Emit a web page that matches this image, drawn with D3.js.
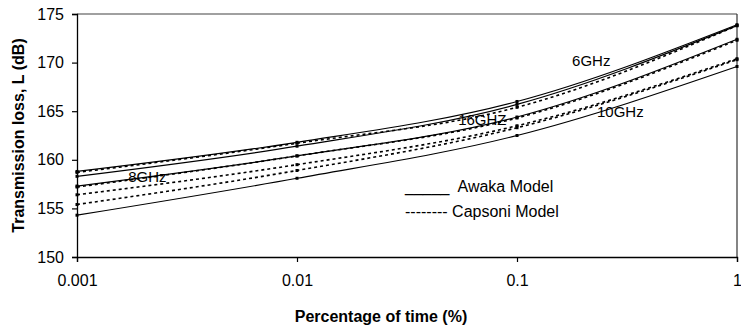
<!DOCTYPE html>
<html><head><meta charset="utf-8">
<script src="https://cdn.jsdelivr.net/npm/d3@7/dist/d3.min.js"></script>
<style>body{margin:0;background:#fff}svg{display:block}text{font-family:"Liberation Sans",Arial,sans-serif}</style>
</head><body><svg id="c" width="741" height="331"></svg>
<script>
const percentTime = [0.001, 0.01, 0.1, 1];
const xTicks = [0.001, 0.01, 0.1, 1];
const xTickLabels = ["0.001", "0.01", "0.1", "1"];
const yTicks = [150, 155, 160, 165, 170, 175];
// Awaka model (solid)
const awakaA = [158.8, 161.8, 166.0, 173.9];
const awakaB = [158.3, 161.4, 165.7, 173.8];
const awakaC = [157.3, 160.4, 164.4, 172.4];
const awakaD = [154.3, 158.1, 162.5, 169.6];
// Capsoni model (dashed)
const capsoniA = [158.7, 161.7, 165.4, 173.8];
const capsoniB = [157.2, 160.4, 164.3, 172.3];
const capsoniC = [156.4, 159.5, 163.5, 170.4];
const capsoniD = [155.4, 158.9, 163.3, 170.3];
const freqLabels = ["6GHz", "8GHz", "10GHz", "16GHZ"];
const freqLabelPos = [[0.178, 169.65], [0.00171, 157.75], [0.231, 164.37], [0.054, 163.58]];
const legendLabels = ["_____  Awaka Model", "-------- Capsoni Model"];

const svg = d3.select("#c");
const L = 77, R = 737, T = 14, B = 257;
const x = d3.scaleLog().domain([0.001, 1]).range([L, R]);
const y = d3.scaleLinear().domain([150, 175]).range([B, T]);

// frame top/right
svg.append("line").attr("x1", L).attr("x2", R).attr("y1", T).attr("y2", T).attr("stroke", "#808080").attr("stroke-width", 1.3);
svg.append("line").attr("x1", R).attr("x2", R).attr("y1", T).attr("y2", B).attr("stroke", "#333").attr("stroke-width", 1.2);

const yAxis = svg.append("g").attr("transform", `translate(${L},0)`)
  .call(d3.axisLeft(y).tickValues(yTicks).tickSize(5).tickPadding(8).tickFormat(d3.format("d")));
const xAxis = svg.append("g").attr("transform", `translate(0,${B})`)
  .call(d3.axisBottom(x).tickValues(xTicks).tickSize(5).tickPadding(13).tickFormat((d, i) => xTickLabels[i]));
[yAxis, xAxis].forEach(g => {
  g.select(".domain").attr("stroke", "#000").attr("stroke-width", 1.3);
  g.selectAll(".tick line").attr("stroke", "#000").attr("stroke-width", 1.2);
  g.selectAll("text").attr("font-size", 16).attr("fill", "#000").attr("font-family", "Liberation Sans, Arial, sans-serif");
});

const series = [
  {v: awakaA, dash: null}, {v: awakaB, dash: null}, {v: awakaC, dash: null}, {v: awakaD, dash: null},
  {v: capsoniA, dash: "3,3"}, {v: capsoniB, dash: "3,3"}, {v: capsoniC, dash: "3,3"}, {v: capsoniD, dash: "3,3"}
];
const line = d3.line().x((d, i) => x(percentTime[i])).y(d => y(d)).curve(d3.curveMonotoneX);
series.forEach(s => {
  svg.append("path").datum(s.v).attr("d", line).attr("fill", "none").attr("stroke", "#000")
    .attr("stroke-width", s.dash ? 1.6 : 1.2).attr("stroke-dasharray", s.dash);
  svg.append("g").selectAll("rect").data(s.v).join("rect")
    .attr("x", (d, i) => x(percentTime[i]) - 1.5).attr("y", d => y(d) - 1.5)
    .attr("width", 3).attr("height", 3).attr("fill", "#000");
});

freqLabels.forEach((t, i) => {
  svg.append("text").attr("x", x(freqLabelPos[i][0])).attr("y", y(freqLabelPos[i][1]))
    .attr("font-size", 15).text(t);
});

svg.append("text").attr("x", 405).attr("y", 191.5).attr("font-size", 16).style("white-space", "pre").text(legendLabels[0]);
svg.append("text").attr("x", 405).attr("y", 216.5).attr("font-size", 16).style("white-space", "pre").text(legendLabels[1]);

svg.append("text").attr("x", (L + R) / 2 - 26).attr("y", 322).attr("text-anchor", "middle")
  .attr("font-size", 16).attr("font-weight", "bold").text("Percentage of time (%)");
svg.append("text").attr("transform", `translate(24,${(T + B) / 2}) rotate(-90)`).attr("text-anchor", "middle")
  .attr("font-size", 16).attr("font-weight", "bold").text("Transmission loss, L (dB)");
</script></body></html>
